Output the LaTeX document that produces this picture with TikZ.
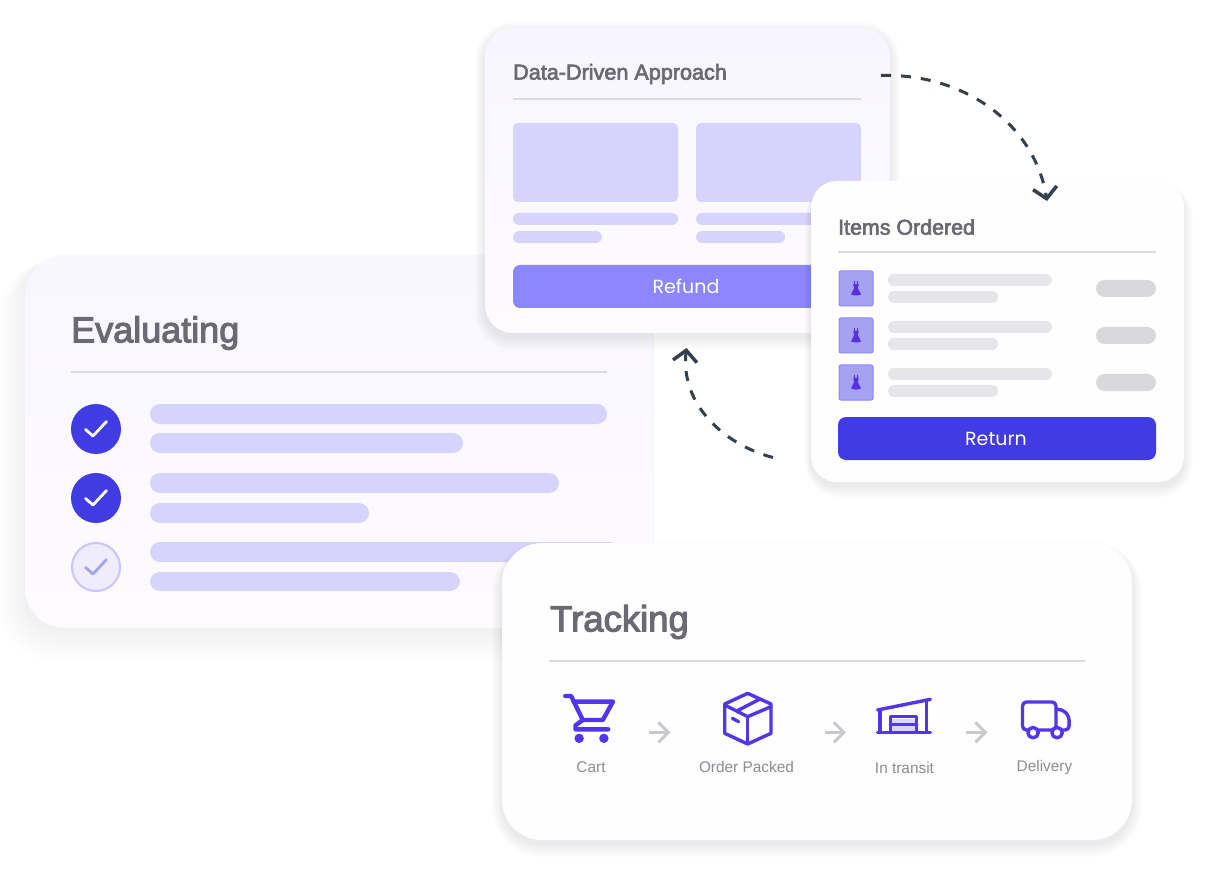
\documentclass[tikz,border=0pt]{standalone}
\usepackage{fontspec}
\setmainfont{Liberation Sans}
\newfontfamily\popfont{Poppins}
\newfontfamily\titlefont{Liberation Sans}[FakeBold=3]
\usetikzlibrary{arrows.meta}
\definecolor{ttl}{HTML}{6A6974}
\definecolor{rulec}{HTML}{DCDAE2}
\definecolor{barp}{HTML}{D6D3FD}
\definecolor{barg}{HTML}{E6E5E9}
\definecolor{pillg}{HTML}{D9D8DB}
\definecolor{deep}{HTML}{403BE3}
\definecolor{mid}{HTML}{8C87FF}
\definecolor{thumb}{HTML}{A5A2F1}
\definecolor{icon}{HTML}{5236EC}
\definecolor{dress}{HTML}{5A2FE0}
\definecolor{dashc}{HTML}{33414F}
\definecolor{arrowg}{HTML}{C9C9CB}
\definecolor{lab}{HTML}{8C8C92}
\definecolor{evalA}{HTML}{F8F6FF}
\definecolor{evalB}{HTML}{FEFBFF}
\definecolor{dataA}{HTML}{F7F5FF}
\definecolor{dataB}{HTML}{FEFBFF}
\definecolor{itemcard}{HTML}{FFFEFF}
\definecolor{trackcard}{HTML}{FEFDFF}
\definecolor{lightfill}{HTML}{EEECFD}
\definecolor{lightring}{HTML}{C8C5FA}
\definecolor{lightcheck}{HTML}{A4A2F4}
\definecolor{doorfill}{HTML}{DAD5FC}
\tikzset{
  titlelabel/.style={anchor=west,inner sep=0pt,text=ttl,font=\titlefont},
  steplabel/.style={anchor=base,inner sep=0pt,text=lab,font=\fontsize{15.4}{17}\selectfont},
  btnlabel/.style={inner sep=0pt,text=white,font=\popfont\fontsize{19}{21}\selectfont},
  rulel/.style={draw=rulec,line width=1.6pt},
  flowarrow/.style={dashc,line width=3pt,dash pattern=on 10pt off 10pt,
     -{Straight Barb[length=11pt,width=24pt,line width=3.5pt]}},
  steparrow/.style={arrowg,line width=3pt,-{Straight Barb[length=10pt,width=20pt,line width=3pt]}},
  iconline/.style={draw=icon,line width=3.4pt,line join=round,line cap=round},
  checkmark/.style={line width=2.8pt,line cap=round,line join=round}
}
\newcommand{\dressicon}[2]{%
  \begin{scope}[shift={(#1,#2)}]
    \fill[dress] (-1.8,-7.5) -- (-1.2,-7.5) -- (-1,-4.5) -- (1,-4.5) -- (1.2,-7.5) -- (1.8,-7.5) -- (2.6,-3) -- (1.8,-0.5) -- (5,6) -- (1.5,7) -- (-1.5,7) -- (-5,6) -- (-1.8,-0.5) -- (-2.6,-3) -- cycle;
  \end{scope}}
\begin{document}
\begin{tikzpicture}[x=1pt,y=-1pt]
\useasboundingbox (0,0) rectangle (1208,893);
\fill[white] (0,0) rectangle (1208,893);

% Evaluating card
\foreach \g in {1,...,14}{\fill[black,opacity=0.0055,rounded corners=40+\g] (25-\g*1.8,255+\g*0.5) rectangle (653+\g*0.1,628+\g*2.4);}
\shade[rounded corners=40,top color=evalA,bottom color=evalB] (25,255) rectangle (653,628);
\node[titlelabel,font=\titlefont\fontsize{36}{39}\selectfont] (evaltitle) at (71,333) {Evaluating};
\draw[rulel,line width=2pt] (71,372) -- (607,372);
\fill[barp,rounded corners=10] (150,404) rectangle (607,424);
\fill[barp,rounded corners=10] (150,433) rectangle (463,453);
\fill[barp,rounded corners=10] (150,473) rectangle (559,493);
\fill[barp,rounded corners=10] (150,503) rectangle (369,523);
\fill[barp,rounded corners=10] (150,542) rectangle (620,562);
\fill[barp,rounded corners=10] (150,572) rectangle (460,591);
\node[circle,fill=deep,minimum size=50pt,inner sep=0pt] (c1) at (96,429) {};
\node[circle,fill=deep,minimum size=50pt,inner sep=0pt] (c2) at (96,498) {};
\node[circle,fill=lightfill,draw=lightring,line width=2pt,minimum size=48pt,inner sep=0pt] (c3) at (96,567) {};
\draw[checkmark,white] (85.5,429.5) -- (93,436) -- (106.5,421.5);
\draw[checkmark,white] (85.5,498.5) -- (93,505) -- (106.5,490.5);
\draw[checkmark,color=lightcheck] (85.5,567.5) -- (93,574) -- (106.5,559.5);

% Data-Driven card
\foreach \g in {1,...,10}{\fill[black,opacity=0.006,rounded corners=28+\g] (485-\g,28-\g+4) rectangle (890+\g,333+\g*1.3+4);}
\shade[rounded corners=28,top color=dataA,bottom color=dataB] (485,28) rectangle (890,333);
\node[titlelabel,font=\titlefont\fontsize{21.6}{24}\selectfont] (datatitle) at (513,74) {Data-Driven Approach};
\draw[rulel] (513,99) -- (861,99);
\fill[barp,rounded corners=5] (513,123) rectangle (678,202);
\fill[barp,rounded corners=5] (696,123) rectangle (861,202);
\fill[barp,rounded corners=6] (513,213) rectangle (678,225);
\fill[barp,rounded corners=6] (513,231) rectangle (602,243);
\fill[barp,rounded corners=6] (696,213) rectangle (861,225);
\fill[barp,rounded corners=6] (696,231) rectangle (785,243);
\fill[mid,rounded corners=7] (513,265) rectangle (861,308);
\node[btnlabel] (refund) at (686,286) {Refund};

% Items Ordered card
\foreach \g in {1,...,10}{\fill[black,opacity=0.009,rounded corners=26+\g] (811-\g*0.6,181-\g*0.3+4) rectangle (1184+\g*0.9,482+\g*1.2+4);}
\fill[itemcard,rounded corners=26] (811,181) rectangle (1184,482);
\node[titlelabel,font=\titlefont\fontsize{21.4}{24}\selectfont] (itemstitle) at (838,227) {Items Ordered};
\draw[rulel] (838,252) -- (1156,252);
\foreach \y in {271,318,365}{
  \fill[thumb,draw=mid,line width=1pt,rounded corners=2] (839,\y) rectangle (873,\y+35);
  \dressicon{856}{\y+17.5}
  \fill[barg,rounded corners=6] (888,\y+3) rectangle (1052,\y+15);
  \fill[barg,rounded corners=6] (888,\y+20) rectangle (998,\y+32);
  \fill[pillg,rounded corners=8.5] (1096,\y+9) rectangle (1156,\y+26);
}
\fill[deep,rounded corners=8] (838,417) rectangle (1156,460);
\node[btnlabel] (return) at (996,438.5) {Return};

% Tracking card
\foreach \g in {1,...,10}{\fill[black,opacity=0.008,rounded corners=40+\g] (502-\g,543-\g*0.5+4) rectangle (1132+\g,840+\g*1.3+4);}
\fill[trackcard,rounded corners=40] (502,543) rectangle (1132,840);
\node[titlelabel,font=\titlefont\fontsize{36.5}{39}\selectfont] (tracktitle) at (550,622) {Tracking};
\draw[rulel] (549,661) -- (1085,661);

\begin{scope}[shift={(530,670)},x=0.364pt,y=-0.3333pt]
  % cart
  \draw[iconline,line width=4.4pt] (97,78) -- (113,78) -- (145,150) -- (125,166) -- (125,178) -- (215,178);
  \draw[iconline,line width=4.4pt] (120,95) -- (228,95) -- (200,150) -- (145,150);
  \fill[icon] (135,205) circle[radius=4.7pt];
  \fill[icon] (203,205) circle[radius=4.7pt];
  % box
  \draw[iconline] (598,70) -- (662,102) -- (662,190) -- (598,222) -- (535,190) -- (535,102) -- cycle;
  \draw[iconline] (535,105) -- (598,140) -- (662,110);
  \draw[iconline] (598,140) -- (598,220);
  \draw[iconline] (570,122) -- (630,88);
  \draw[iconline] (556,145) -- (573,155);
  % warehouse
  \fill[doorfill] (993,148) rectangle (1060,183);
  \draw[iconline] (955,120) -- (1100,88);
  \draw[iconline] (955,187) -- (1100,187);
  \draw[iconline] (962,120) -- (962,187);
  \draw[iconline,line width=2.6pt] (1090,90) -- (1090,187);
  \draw[iconline] (990,187) -- (990,140) -- (1062,140) -- (1062,187);
  \draw[iconline] (990,164) -- (1062,164);
  % truck
  \draw[iconline,rounded corners=4pt] (1368,180) -- (1353,180) -- (1353,96) -- (1445,96) -- (1445,180) -- (1395,180);
  \draw[iconline,rounded corners=4pt] (1445,118) -- (1462,118) -- (1481,138) -- (1481,180) -- (1463,180);
  \draw[iconline,fill=white] (1382,188) circle[radius=5.2pt];
  \draw[iconline,fill=white] (1448,188) circle[radius=5.2pt];
  % step arrows
  \coordinate (s1a) at (328,187); \coordinate (s1b) at (386,187);
  \coordinate (s2a) at (810,187); \coordinate (s2b) at (868,187);
  \coordinate (s3a) at (1198,187); \coordinate (s3b) at (1257,187);
\end{scope}
\draw[steparrow] (s1a) -- (s1b);
\draw[steparrow] (s2a) -- (s2b);
\draw[steparrow] (s3a) -- (s3b);
\node[steplabel] (cart) at (591,772.5) {Cart};
\node[steplabel] (packed) at (746.5,772.5) {Order Packed};
\node[steplabel] (transit) at (904.5,773.5) {In transit};
\node[steplabel] (delivery) at (1044.5,771.5) {Delivery};

% flow arrows
\coordinate (f1a) at (881,75.5);
\coordinate (f1b) at (1047,201);
\coordinate (f2a) at (773,457.5);
\coordinate (f2b) at (686.5,348);
\draw[flowarrow] (f1a) .. controls (965,73) and (1035,125) .. (f1b);
\draw[flowarrow] (f2a) .. controls (725,445) and (680,405) .. (f2b);
\end{tikzpicture}
\end{document}
